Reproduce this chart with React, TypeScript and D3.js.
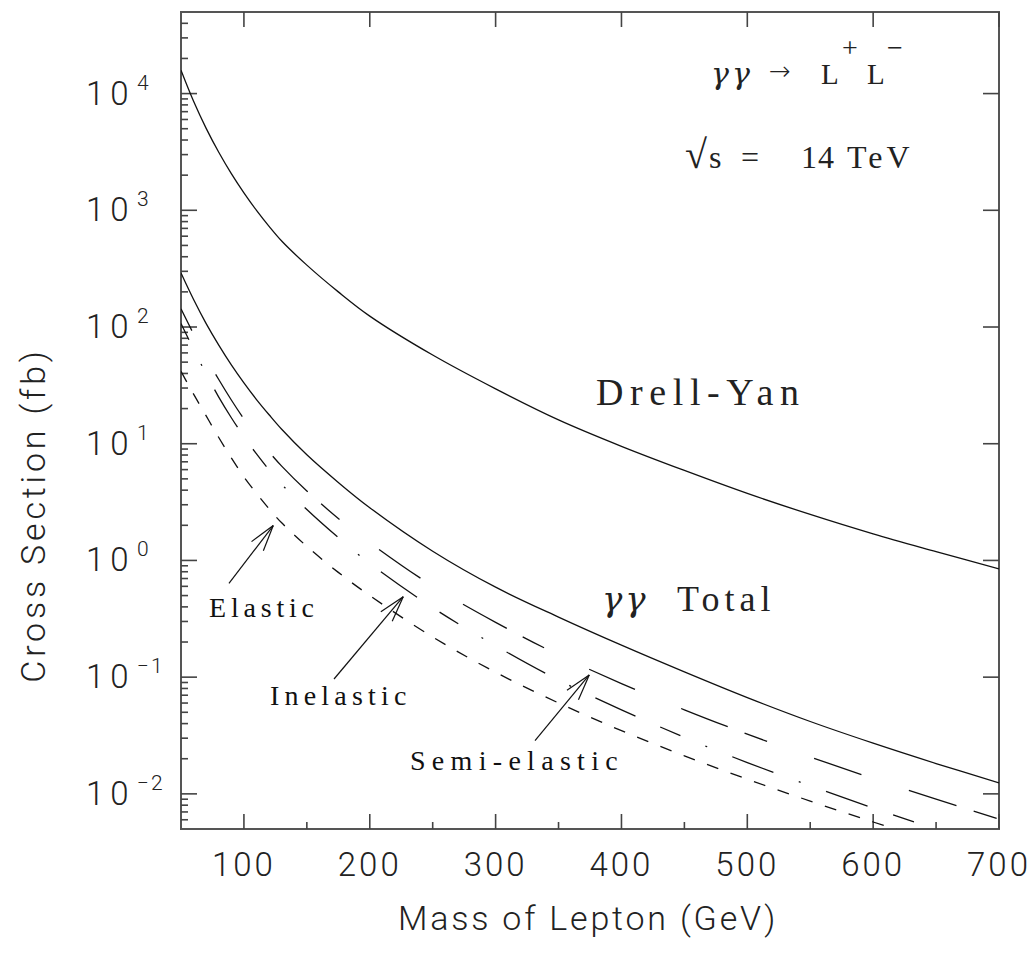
import React from 'react';
import * as d3 from 'd3';

// lepton mass (GeV) and cross sections (fb)
const masses = [50, 60, 70, 80, 90, 100, 110, 120, 130, 150, 175, 200, 250, 300, 350, 400, 450, 500, 550, 600, 650, 700];
const drellYan = [15850, 8590, 5035, 3140, 2060, 1410, 998, 728, 545, 339, 200, 124, 57.5, 29.5, 16.0, 9.5, 5.9, 3.75, 2.48, 1.69, 1.19, 0.845];
const ggTotal = [290, 172, 107, 70, 47.4, 33.2, 23.9, 17.7, 13.3, 8.04, 4.66, 2.83, 1.2, 0.59, 0.327, 0.188, 0.111, 0.0668, 0.0417, 0.0272, 0.0182, 0.0124];
const semiElastic = [143, 87.1, 54.7, 35.5, 23.7, 16.3, 11.6, 8.51, 6.43, 3.94, 2.29, 1.42, 0.603, 0.295, 0.155, 0.0881, 0.0525, 0.0325, 0.0207, 0.01355, 0.00902, 0.00608];
const inelastic = [107, 64.6, 39.6, 25.1, 16.7, 11.5, 8.17, 5.97, 4.49, 2.73, 1.57, 0.942, 0.394, 0.186, 0.0944, 0.0525, 0.0305, 0.01853, 0.01172, 0.00757, 0.00499, 0.00333];
const elastic = [41.7, 26.6, 17.3, 11.3, 7.55, 5.19, 3.75, 2.77, 2.1, 1.32, 0.79, 0.5, 0.221, 0.11, 0.0601, 0.0348, 0.0212, 0.01337, 0.00867, 0.00574, 0.00385, 0.0026];

const xMajor = [100, 200, 300, 400, 500, 600, 700];
const xMinor = [150, 250, 350, 450, 550, 650];
const yExponents = [-2, -1, 0, 1, 2, 3, 4];

// arrows: [tail mass, tail sigma, tip mass, tip sigma]
const arrowElastic = [88.1, 0.637, 123.3, 1.99];
const arrowInelastic = [171.6, 0.0964, 226.6, 0.489];
const arrowSemi = [331.3, 0.0286, 374.4, 0.1045];

const W = 1034;
const H = 953;
const left = 181, right = 999, top = 12, bottom = 829;

const sans = "Roboto, 'DejaVu Sans', sans-serif";
const serif = "'Liberation Serif', 'DejaVu Serif', serif";
const greek = "'DejaVu Serif', serif";

export default function App() {
  const x = d3.scaleLinear().domain([50, 700]).range([left, right]);
  const y = d3.scaleLog().domain([5e-3, 5e4]).range([bottom, top]);

  const line = d3
    .line<number>()
    .x((d, i) => x(masses[i]))
    .y((d) => y(d))
    .curve(d3.curveCatmullRom.alpha(0.5));

  // minor ticks on the log axis
  const yMinor: number[] = [];
  for (let e = -3; e <= 4; e++) {
    for (let k = 2; k <= 9; k++) {
      const v = k * Math.pow(10, e);
      if (v > 5e-3 && v < 5e4) yMinor.push(v);
    }
  }

  const arrow = (a: number[], key: string) => {
    const x0 = x(a[0]), y0 = y(a[1]), x1 = x(a[2]), y1 = y(a[3]);
    const ang = Math.atan2(y0 - y1, x0 - x1);
    const len = 27, spread = (16 * Math.PI) / 180;
    const h1 = [x1 + len * Math.cos(ang - spread), y1 + len * Math.sin(ang - spread)];
    const h2 = [x1 + len * Math.cos(ang + spread), y1 + len * Math.sin(ang + spread)];
    return (
      <g key={key} stroke="#111" strokeWidth={1.2} fill="none">
        <line x1={x0} y1={y0} x2={x1} y2={y1} />
        <line x1={x1} y1={y1} x2={h1[0]} y2={h1[1]} />
        <line x1={x1} y1={y1} x2={h2[0]} y2={h2[1]} />
      </g>
    );
  };

  const tickColor = '#444';

  return (
    <svg
      width={W}
      height={H}
      style={{ position: 'absolute', left: 0, top: 0, display: 'block', background: '#fff' }}
    >
      <defs>
        <clipPath id="plot">
          <rect x={left} y={top} width={right - left} height={bottom - top} />
        </clipPath>
      </defs>

      {/* frame */}
      <rect x={left} y={top} width={right - left} height={bottom - top} fill="none" stroke="#555" strokeWidth={2} />

      {/* x ticks */}
      {xMajor.map((v) => (
        <g key={'xm' + v} stroke={tickColor} strokeWidth={1.6}>
          <line x1={x(v)} x2={x(v)} y1={bottom} y2={bottom - 15} />
          <line x1={x(v)} x2={x(v)} y1={top} y2={top + 15} />
        </g>
      ))}
      {xMinor.map((v) => (
        <line key={'xn' + v} x1={x(v)} x2={x(v)} y1={bottom} y2={bottom - 7} stroke={tickColor} strokeWidth={1.6} />
      ))}

      {/* y ticks */}
      {yExponents.map((e) => (
        <g key={'ym' + e} stroke={tickColor} strokeWidth={1.6}>
          <line x1={left} x2={left + 16} y1={y(Math.pow(10, e))} y2={y(Math.pow(10, e))} />
          <line x1={right} x2={right - 16} y1={y(Math.pow(10, e))} y2={y(Math.pow(10, e))} />
        </g>
      ))}
      {yMinor.map((v) => (
        <line key={'yn' + v} x1={left} x2={left + 7} y1={y(v)} y2={y(v)} stroke={tickColor} strokeWidth={1.6} />
      ))}

      {/* tick labels */}
      {xMajor.map((v) => (
        <text
          key={'xl' + v}
          x={x(v)}
          y={876}
          textAnchor="middle"
          fontFamily={sans}
          fontWeight={300}
          fontSize={33}
          letterSpacing={3}
          fill="#222"
        >
          {v}
        </text>
      ))}
      {yExponents.map((e) => (
        <text key={'yl' + e} fontFamily={sans} fontWeight={300} fill="#222">
          <tspan x={86} y={y(Math.pow(10, e)) + 11} fontSize={33} letterSpacing={6}>
            10
          </tspan>
          <tspan x={137} y={y(Math.pow(10, e)) - 4} fontSize={21} letterSpacing={2}>
            {e < 0 ? '\u2212' + -e : String(e)}
          </tspan>
        </text>
      ))}

      {/* axis titles */}
      <text
        x={588}
        y={930}
        textAnchor="middle"
        fontFamily={sans}
        fontWeight={300}
        fontSize={34}
        letterSpacing={2.8}
        fill="#222"
      >
        Mass of Lepton (GeV)
      </text>
      <text
        transform="translate(45,515) rotate(-90)"
        textAnchor="middle"
        fontFamily={sans}
        fontWeight={300}
        fontSize={34}
        letterSpacing={3.8}
        fill="#222"
      >
        Cross Section (fb)
      </text>

      {/* curves */}
      <g clipPath="url(#plot)" fill="none" stroke="#111" strokeWidth={1.3}>
        <path d={line(drellYan) || ''} />
        <path d={line(ggTotal) || ''} />
        <path d={line(semiElastic) || ''} strokeDasharray="50 50 50 18 24 50" strokeDashoffset={168} />
        <path d={line(inelastic) || ''} strokeDasharray="44 27 22 27 2 27 44 27 2 27" strokeDashoffset={175} />
        <path d={line(elastic) || ''} strokeDasharray="12 13" />
      </g>

      {/* arrows */}
      {arrow(arrowElastic, 'ae')}
      {arrow(arrowInelastic, 'ai')}
      {arrow(arrowSemi, 'as')}

      {/* annotations */}
      <text fontFamily={serif} fill="#222">
        <tspan x={711} y={84} fontSize={30} fontFamily={greek} fontStyle="italic" fontWeight={300} letterSpacing={3}>γγ</tspan>
        <tspan x={769} y={80} fontSize={26} fontFamily="'DejaVu Sans', sans-serif" fontWeight={200}>→</tspan>
        <tspan x={821} y={84} fontSize={29}>L</tspan>
        <tspan x={842} y={57} fontSize={28}>+</tspan>
        <tspan x={867} y={84} fontSize={29}>L</tspan>
        <tspan x={887} y={57} fontSize={28}>−</tspan>
      </text>
      <text fontFamily={serif} fill="#222" fontSize={32}>
        <tspan x={685} y={168} fontSize={40}>√</tspan>
        <tspan x={709} y={168}>s</tspan>
        <tspan x={741} y={168}>=</tspan>
        <tspan x={801} y={168} letterSpacing={1}>14</tspan>
        <tspan x={847} y={168} letterSpacing={4}>TeV</tspan>
      </text>
      <text x={596} y={405} fontFamily={serif} fontSize={38} letterSpacing={6.6} fill="#222">
        Drell-Yan
      </text>
      <text fontFamily={serif} fill="#222" fontSize={36}>
        <tspan x={602} y={611} fontFamily={greek} fontStyle="italic" fontSize={34} letterSpacing={3}>γγ</tspan>
        <tspan x={677} y={611} letterSpacing={5}>Total</tspan>
      </text>
      <text x={209} y={617} fontFamily={serif} fontSize={28} letterSpacing={4.8} fill="#111">
        Elastic
      </text>
      <text x={270} y={705} fontFamily={serif} fontSize={28} letterSpacing={5.2} fill="#111">
        Inelastic
      </text>
      <text x={410} y={770} fontFamily={serif} fontSize={28} letterSpacing={6.3} fill="#111">
        Semi-elastic
      </text>
    </svg>
  );
}
